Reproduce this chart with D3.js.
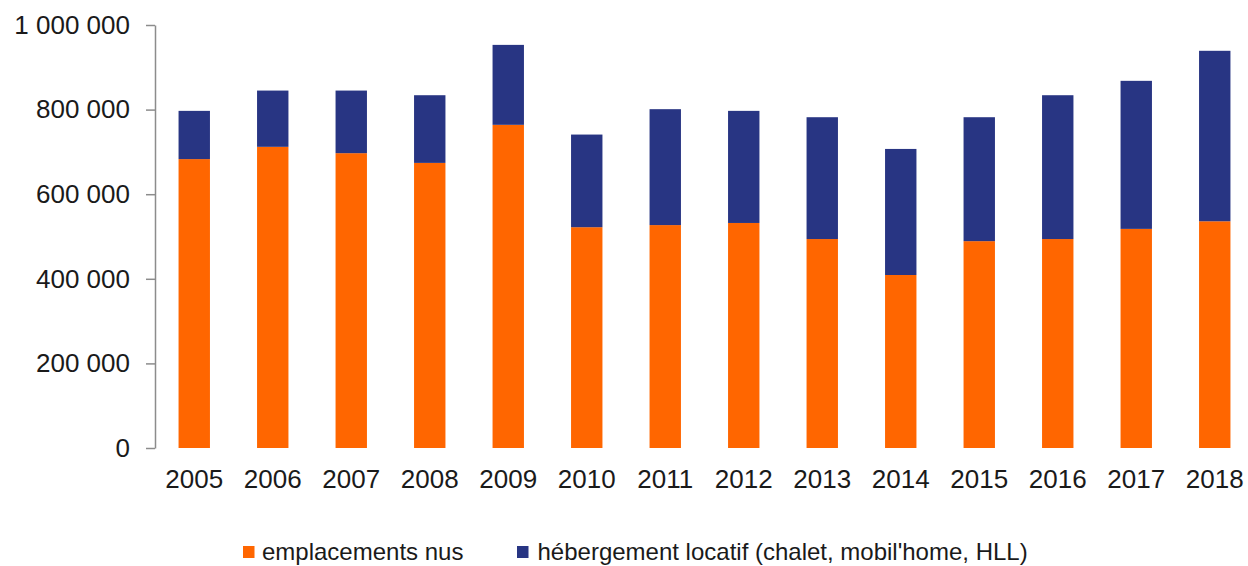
<!DOCTYPE html>
<html>
<head>
<meta charset="utf-8">
<script src="https://cdn.jsdelivr.net/npm/d3@7"></script>
<style>
  body { margin: 0; background: #fff; }
  svg { font-family: "Liberation Sans", Arial, sans-serif; }
</style>
</head>
<body>
<svg id="chart" width="1248" height="566"></svg>
<script>
// data
var years = ["2005","2006","2007","2008","2009","2010","2011","2012","2013","2014","2015","2016","2017","2018"];
var emplacements = [683000, 712000, 697000, 674000, 764000, 522000, 527000, 532000, 494000, 409000, 489000, 494000, 518000, 536000];
var hebergement = [114000, 133000, 148000, 160000, 189000, 219000, 274000, 265000, 288000, 298000, 293000, 340000, 350000, 403000];
var yTicks = [0, 200000, 400000, 600000, 800000, 1000000];
var seriesNames = ["emplacements nus", "hébergement locatif (chalet, mobil'home, HLL)"];
var seriesColors = ["#ff6600", "#283583"];

var svg = d3.select("#chart");
var margin = {top: 25, left: 155, bottom: 118};
var chartH = 566 - margin.top - margin.bottom;

var fr = d3.formatLocale({decimal: ",", thousands: " ", grouping: [3], currency: ["", " €"]});
var fmt = fr.format(",");

var xScale = d3.scaleBand()
  .domain(years)
  .range([margin.left, margin.left + 14 * 78.5])
  .paddingInner(0.6)
  .paddingOuter(0.3);

var yScale = d3.scaleLinear()
  .domain([0, 1000000])
  .range([margin.top + chartH, margin.top]);

// stacked rows
var rows = years.map(function(y, i) {
  return {year: y, a: emplacements[i], b: hebergement[i]};
});
var stack = d3.stack().keys(["a", "b"])(rows);

var layers = svg.append("g").selectAll("g").data(stack).enter()
  .append("g")
  .attr("fill", function(d, i) { return seriesColors[i]; });

layers.selectAll("rect").data(function(d) { return d; }).enter()
  .append("rect")
  .attr("x", function(d) { return xScale(d.data.year); })
  .attr("width", xScale.bandwidth())
  .attr("y", function(d) { return yScale(d[1]); })
  .attr("height", function(d) { return yScale(d[0]) - yScale(d[1]); });

// y axis
var yAxis = svg.append("g")
  .attr("transform", "translate(" + margin.left + ",0)")
  .call(d3.axisLeft(yScale).tickValues(yTicks).tickFormat(fmt).tickSize(9).tickSizeOuter(0).tickPadding(16));
yAxis.select(".domain").attr("stroke", "#8c8c8c").attr("stroke-width", 1.5);
yAxis.selectAll(".tick line").attr("stroke", "#8c8c8c").attr("stroke-width", 1.5);
yAxis.selectAll("text")
  .attr("font-size", 26)
  .attr("fill", "#1a1a1a")
  .attr("font-family", "Liberation Sans, Arial, sans-serif");

// x labels
var xAxis = svg.append("g")
  .attr("transform", "translate(0," + (margin.top + chartH) + ")")
  .call(d3.axisBottom(xScale).tickSize(0).tickPadding(22));
xAxis.select(".domain").remove();
xAxis.selectAll("text")
  .attr("font-size", 26)
  .attr("fill", "#1a1a1a")
  .attr("font-family", "Liberation Sans, Arial, sans-serif");

// legend (sits at the very bottom edge, like the original)
var legendX = [243, 517];
var legend = svg.append("g").selectAll("g").data(seriesNames).enter()
  .append("g")
  .attr("transform", function(d, i) { return "translate(" + legendX[i] + ",546)"; });
legend.append("rect")
  .attr("width", 11.5)
  .attr("height", 12)
  .attr("fill", function(d, i) { return seriesColors[i]; });
legend.append("text")
  .attr("x", function(d, i) { return i === 0 ? 19 : 20.5; })
  .attr("y", 14)
  .attr("font-size", 24)
  .attr("fill", "#1a1a1a")
  .text(function(d) { return d; });
</script>
</body>
</html>
